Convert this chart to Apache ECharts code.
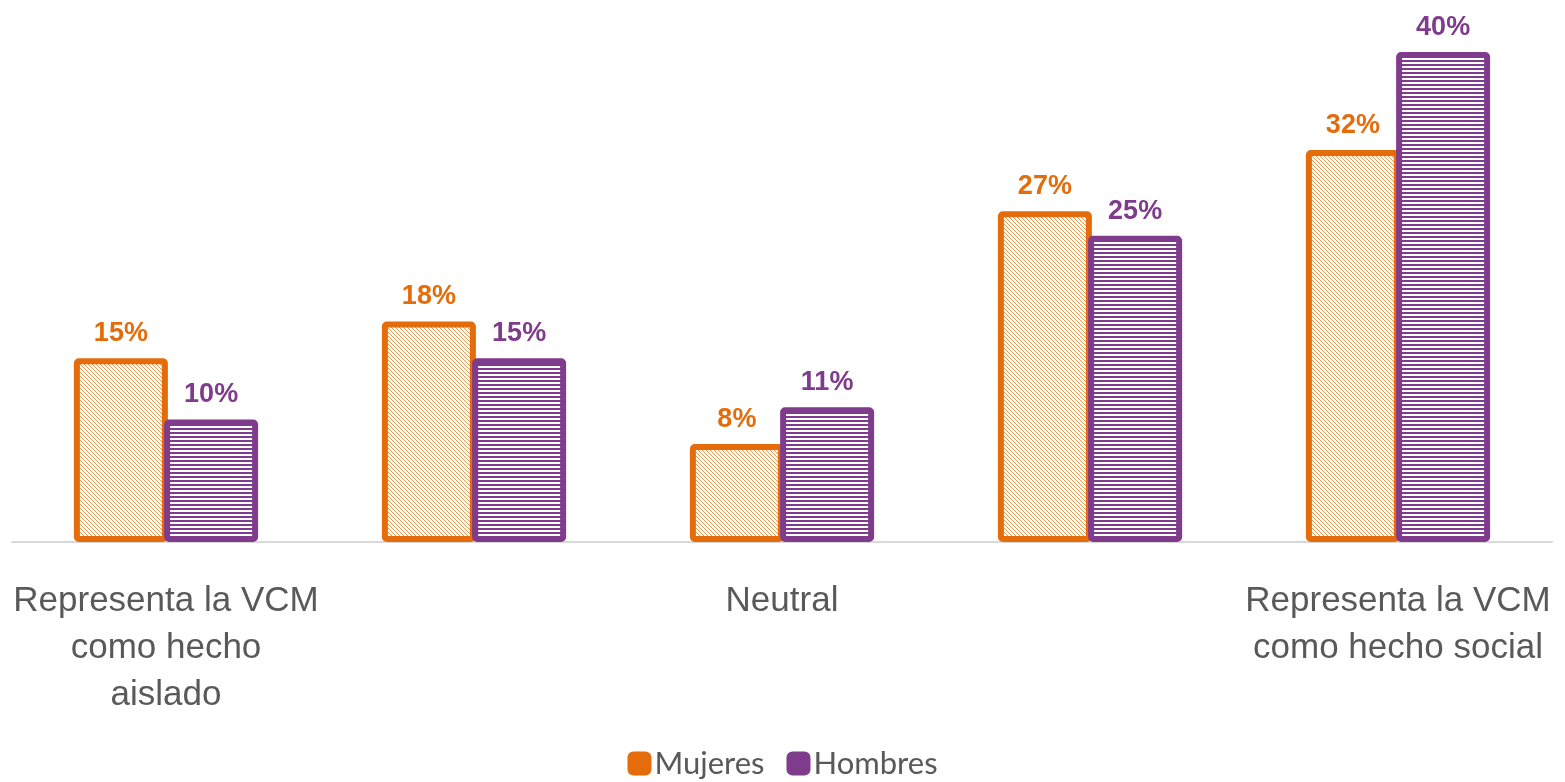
<!DOCTYPE html>
<html>
<head>
<meta charset="utf-8">
<script src="https://cdn.jsdelivr.net/npm/echarts@6/dist/echarts.min.js"></script>
<style>
  html, body { margin: 0; padding: 0; background: #fff; }
  #chart { width: 1565px; height: 782px; }
</style>
</head>
<body>
<div id="chart"></div>
<script>
const categories = [
  'Representa la VCM\ncomo hecho\naislado',
  '',
  'Neutral',
  '',
  'Representa la VCM\ncomo hecho social'
];
const mujeres = [15, 18, 8, 27, 32];
const hombres = [10, 15, 11, 25, 40];

const ORANGE = '#E46C0A';
const PURPLE = '#7F3B8C';

// hatch fill for Mujeres: thin diagonal orange lines
function diagPattern() {
  const c = document.createElement('canvas');
  c.width = 4; c.height = 4;
  const g = c.getContext('2d');
  g.fillStyle = '#fff';
  g.fillRect(0, 0, 4, 4);
  g.strokeStyle = '#EE9550';
  g.lineWidth = 1;
  g.beginPath();
  g.moveTo(-1, -1); g.lineTo(5, 5);
  g.moveTo(-1, 3); g.lineTo(1, 5);
  g.moveTo(3, -1); g.lineTo(5, 1);
  g.stroke();
  return c;
}

// horizontal stripes for Hombres
function horizPattern() {
  const c = document.createElement('canvas');
  c.width = 4; c.height = 4;
  const g = c.getContext('2d');
  g.fillStyle = '#fff';
  g.fillRect(0, 0, 4, 4);
  g.fillStyle = PURPLE;
  g.fillRect(0, 0, 4, 2);
  return c;
}

const chart = echarts.init(document.getElementById('chart'));

const labelFont = '"Liberation Sans Narrow", "Arial Narrow", "Liberation Sans", Arial, sans-serif';

chart.setOption({
  animation: false,
  grid: { left: 12, right: 13, top: 52, bottom: 240 },
  legend: {
    bottom: -2,
    left: 'center',
    itemWidth: 24,
    itemHeight: 24,
    itemGap: 22,
    textStyle: { fontFamily: 'Lato, "Noto Sans", sans-serif', fontSize: 31, color: '#595959', padding: [0, 0, 0, -2] },
    data: [
      { name: 'Mujeres', icon: 'roundRect', itemStyle: { color: ORANGE, borderWidth: 0 } },
      { name: 'Hombres', icon: 'roundRect', itemStyle: { color: PURPLE, borderWidth: 0 } }
    ]
  },
  xAxis: {
    type: 'category',
    data: categories,
    axisLine: { lineStyle: { color: '#D9D9D9', width: 2 } },
    axisTick: { show: false },
    axisLabel: {
      interval: 0,
      margin: 36,
      fontFamily: '"Liberation Sans", Arial, sans-serif',
      fontSize: 35,
      lineHeight: 47,
      color: '#595959'
    }
  },
  yAxis: {
    type: 'value',
    min: 0,
    max: 40,
    show: false,
    splitLine: { show: false }
  },
  series: [
    {
      name: 'Mujeres',
      type: 'bar',
      data: mujeres,
      barWidth: 94,
      barGap: '-4%',
      itemStyle: {
        color: { image: diagPattern(), repeat: 'repeat' },
        borderColor: ORANGE,
        borderWidth: 6,
        borderRadius: 2
      },
      label: {
        show: true,
        position: 'top',
        distance: 11,
        formatter: '{c}%',
        color: ORANGE,
        fontWeight: 'bold',
        fontSize: 27,
        fontFamily: labelFont
      }
    },
    {
      name: 'Hombres',
      type: 'bar',
      data: hombres,
      barWidth: 94,
      itemStyle: {
        color: { image: horizPattern(), repeat: 'repeat' },
        borderColor: PURPLE,
        borderWidth: 6,
        borderRadius: 2
      },
      label: {
        show: true,
        position: 'top',
        distance: 11,
        formatter: '{c}%',
        color: PURPLE,
        fontWeight: 'bold',
        fontSize: 27,
        fontFamily: labelFont
      }
    }
  ]
});
</script>
</body>
</html>
